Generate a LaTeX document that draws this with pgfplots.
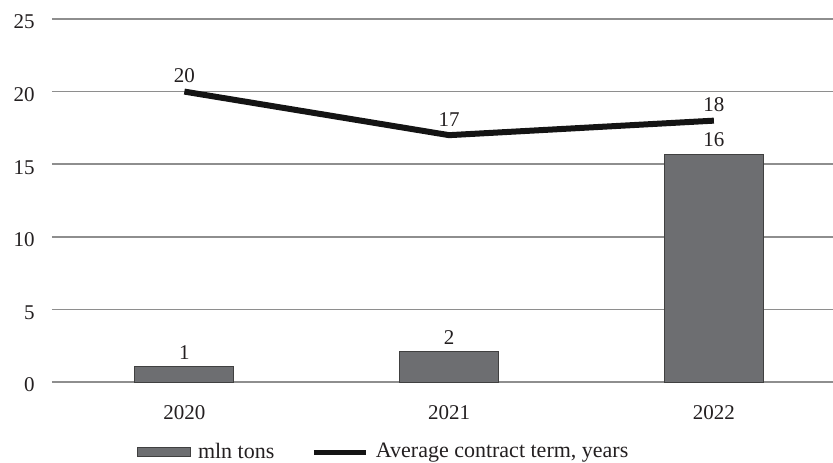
\documentclass[border=0pt]{standalone}
\usepackage{pgfplots}
\pgfplotsset{compat=1.18}
\usepackage{fontspec}
\setmainfont{Liberation Serif}
\definecolor{barfill}{HTML}{6D6E71}
\definecolor{gridc}{HTML}{8E8E8E}
\definecolor{txt}{HTML}{231F20}
\pgfplotstableread{
x y l
0 1.05 1
1 2.07 2
2 15.7 16
}\bars
\pgfplotstableread{
x y l
0 20 20
1 17 17
2 18 18
}\term
\begin{document}
\fontsize{10.5}{12}\selectfont
\begin{tikzpicture}
\begin{axis}[
  width=390.5pt, height=181.5pt, scale only axis,
  xmin=-0.5, xmax=2.45, ymin=0, ymax=25,
  axis line style={draw=none},
  tick style={draw=none},
  ymajorgrids,
  major grid style={gridc, line width=0.75pt},
  xtick={0,1,2}, xticklabels={2020,2021,2022},
  ytick={0,5,10,15,20,25},
  /pgf/number format/assume math mode=true,
  ticklabel style={font=\fontsize{10.5}{12}\selectfont, text=txt},
  yticklabel style={xshift=-5pt, yshift=-1.5pt},
  xticklabel style={yshift=-8pt},
  clip=false,
  legend style={at={(rel axis cs:0.1,-0.193)}, anchor=west, draw=none, fill=none,
    font=\fontsize{11}{12}\selectfont, text=txt,
    /tikz/every even column/.append style={column sep=16.5pt}},
  legend columns=2,
]
\addplot[fill=barfill, draw=black!75, line width=0.5pt, ybar, bar width=49.5pt,
  nodes near coords, point meta=explicit symbolic,
  every node near coord/.append style={font=\fontsize{10.5}{12}\selectfont, text=txt},
  legend image code/.code={\draw[fill=barfill, draw=black!75, line width=0.5pt] (0pt,-2.25pt) rectangle (26.5pt,2.25pt); \path[draw=none, fill=none] (0pt,0pt) -- (28.5pt,0pt);}
] table[x=x, y=y, meta=l] {\bars};
\addlegendentry{mln tons}
\addplot[color=black!92, line width=3pt, mark=none,
  nodes near coords, point meta=explicit symbolic,
  every node near coord/.append style={font=\fontsize{10.5}{12}\selectfont, text=txt, yshift=-0.5pt},
  legend image code/.code={\draw[black!92, line width=2.5pt] (0pt,0pt) -- (26pt,0pt); \path[draw=none, fill=none] (0pt,0pt) -- (29pt,0pt);}
] table[x=x, y=y, meta=l] {\term};
\addlegendentry{Average contract term, years}
\coordinate (bl) at (rel axis cs:0,0);
\coordinate (tr) at (rel axis cs:1,1);
\end{axis}
\pgfresetboundingbox
\path ([xshift=-26pt, yshift=-40pt]bl) rectangle ([yshift=9.5pt]tr);
\end{tikzpicture}
\end{document}
